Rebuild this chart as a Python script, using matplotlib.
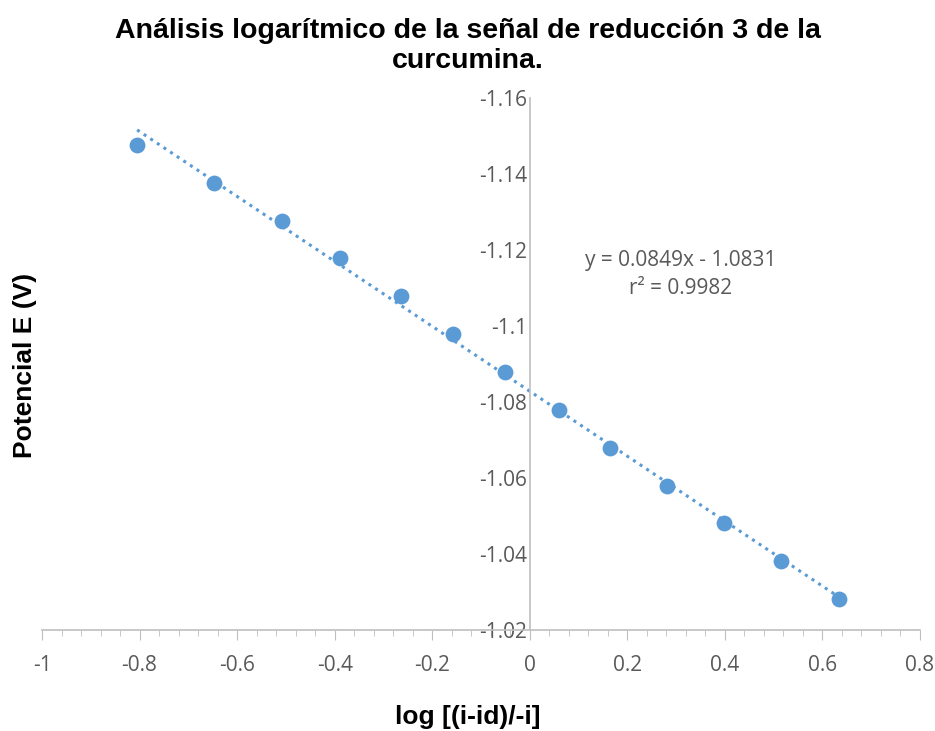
import numpy as np
import matplotlib.pyplot as plt
from matplotlib.ticker import MultipleLocator

# data
log_ratio = [-0.805, -0.648, -0.508, -0.389, -0.264, -0.158, -0.051,
             0.059, 0.164, 0.281, 0.398, 0.516, 0.633]
potential = [-1.1476, -1.1376, -1.1276, -1.1179, -1.1079, -1.0979, -1.0879,
             -1.0779, -1.0679, -1.0579, -1.0482, -1.0382, -1.0282]
fit_text = "y = 0.0849x - 1.0831\nr² = 0.9982"

blue = "#5b9bd5"
gray = "#595959"
axis_gray = "#bfbfbf"

fig = plt.figure(figsize=(9.35, 7.31), dpi=100)
ax = fig.add_axes([42 / 935, 1 - 630 / 731, (920 - 42) / 935, (630 - 98) / 731])

x = np.array(log_ratio)
y = np.array(potential)
slope, icpt = np.polyfit(x, y, 1)
xf = np.array([x.min(), x.max()])
ax.plot(xf, slope * xf + icpt, linestyle=(0, (1, 1.6)), color=blue, lw=2.2, zorder=2)
ax.scatter(x, y, s=130, color=blue, zorder=3, linewidths=0)

ax.set_xlim(-1, 0.8)
ax.xaxis.set_major_locator(MultipleLocator(0.2))
ax.xaxis.set_minor_locator(MultipleLocator(0.04))

for s in ["top", "right"]:
    ax.spines[s].set_visible(False)
ax.spines["left"].set_position(("data", 0))
ax.spines["left"].set_color(axis_gray)
ax.spines["bottom"].set_color(axis_gray)
ax.spines["left"].set_linewidth(1.2)
ax.spines["bottom"].set_linewidth(1.2)

ax.tick_params(axis="x", which="major", direction="out", length=7, color=axis_gray,
               labelsize=15, labelcolor=gray, pad=11)
ax.tick_params(axis="x", which="minor", direction="out", length=4, color=axis_gray)
ax.tick_params(axis="y", length=0, labelsize=15, labelcolor=gray, pad=2)

xt = np.round(np.arange(-1, 0.81, 0.2), 2) + 0.0
ax.set_xticks(xt)
ax.set_xticklabels(["0" if abs(v) < 1e-9 else f"{v:g}" for v in xt], family="Open Sans")
yt = np.round(np.arange(-1.16, -1.019, 0.02), 2)
ax.set_yticks(yt)
ax.set_yticklabels([f"{v:g}" for v in yt], family="Open Sans")
ax.set_ylim(-1.02, -1.16)  # inverted, as in the reference

ax.text(0.31, -1.1135, fit_text, ha="center", va="center", fontsize=15,
        color=gray, family="Open Sans", linespacing=1.4)

fig.text(0.5, 1 - 46 / 731, "Análisis logarítmico de la señal de reducción 3 de la\ncurcumina.",
         ha="center", va="center", fontsize=20.5, fontweight="bold",
         family="Liberation Sans", linespacing=1.15)
fig.text(0.5, 1 - 717 / 731, "log [(i-id)/-i]", ha="center", va="center",
         fontsize=19, fontweight="bold", family="Liberation Sans")
fig.text(25 / 935, 1 - 365 / 731, "Potencial E (V)", ha="center", va="center",
         rotation=90, fontsize=19, fontweight="bold", family="Liberation Sans")

fig.savefig("out.png", dpi=100)
